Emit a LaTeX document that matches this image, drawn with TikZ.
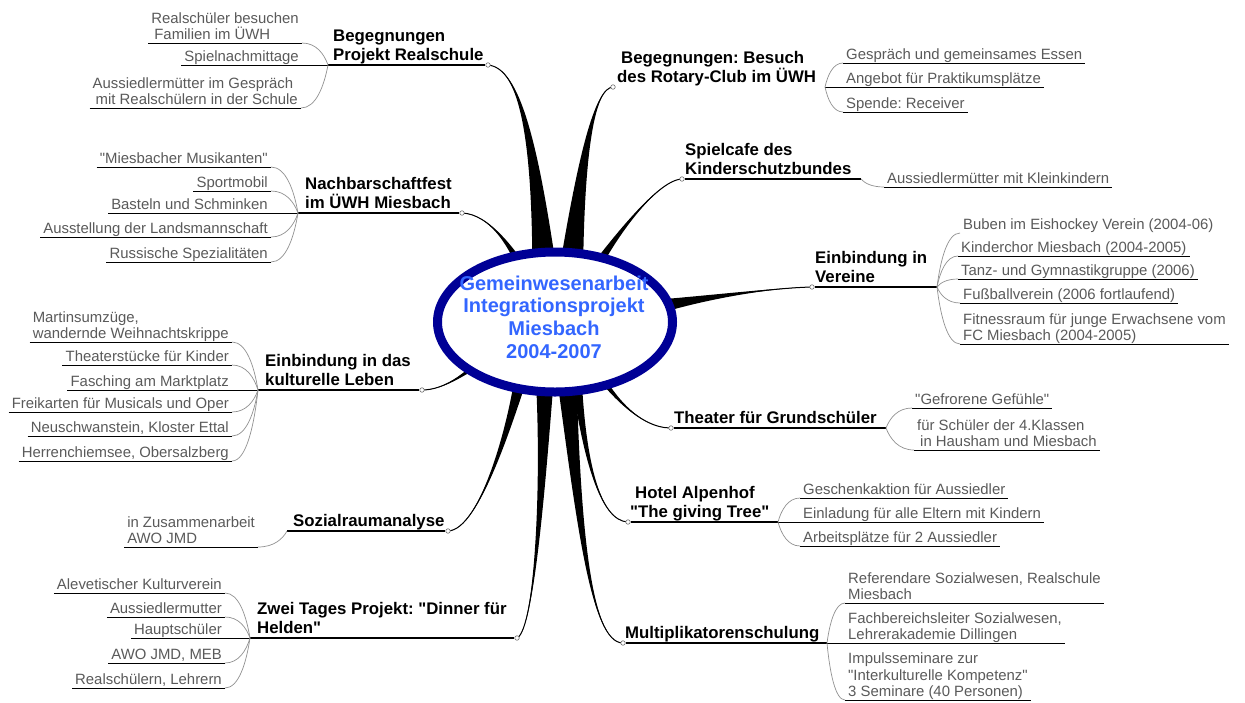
\documentclass[tikz,border=0pt]{standalone}
\usepackage{fontspec}
\setmainfont{Liberation Sans}[Ligatures=TeXOff]
\frenchspacing
\usetikzlibrary{calc,shapes.geometric}
\pgfdeclarelayer{back}
\pgfsetlayers{back,main}
\definecolor{subgray}{RGB}{90,90,90}
\definecolor{hubnavy}{RGB}{0,0,150}
\definecolor{hubblue}{RGB}{51,102,255}
\definecolor{conngray}{RGB}{145,145,145}
\definecolor{knobgray}{RGB}{110,110,110}

% tapered main branch: start, control 1, control 2, end node, half width
\newcommand\branch[5]{%
  \coordinate (bS) at (#1);
  \coordinate (bA) at (#2);
  \coordinate (bB) at (#3);
  \coordinate (bE) at (#4);
  \coordinate (bS1) at ($(bS)!#5!90:(bA)$);
  \coordinate (bS2) at ($(bS)!#5!-90:(bA)$);
  \coordinate (bA1) at ($(bA)+0.15*(bS1)-0.15*(bS)$);
  \coordinate (bA2) at ($(bA)+0.15*(bS2)-0.15*(bS)$);
  \fill (bS1) .. controls (bA1) and (bB) .. (bE) .. controls (bB) and (bA2) .. (bS2) -- cycle;
  \draw[line width=1pt] (bS) .. controls (bA) and (bB) .. (bE);
}
% gray connectors from a junction to a sub topic
\newcommand\lcon[2]{%
  \draw[conn] let \p1=(#1.south east), \p2=(#2) in
    (\p1) .. controls (0.45*\x1+0.55*\x2, \y1) and (0.85*\x2+0.15*\x1, 0.5*\y1+0.5*\y2) .. (\p2);}
\newcommand\rcon[2]{%
  \draw[conn] let \p1=(#1), \p2=(#2.south west) in
    (\p1) .. controls (0.85*\x1+0.15*\x2, 0.5*\y1+0.5*\y2) and (0.45*\x2+0.55*\x1, \y2) .. (\p2);}
% sub topics: name, x, underline y, text, junction
\newcommand\lsub[5]{%
  \node[sublbl, anchor=south east] (#1) at (#2,#3) {#4};
  \draw[uline] (#1.south west) -- (#1.south east);
  \lcon{#1}{#5}}
\newcommand\lsubj[5]{%
  \node[sublbl, anchor=south east] (#1) at (#2,#3) {#4};
  \draw[uline] (#1.south west) -- (#5);}
\newcommand\rsub[5]{%
  \node[sublbl, anchor=south west] (#1) at (#2,#3) {#4};
  \draw[uline] (#1.south west) -- (#1.south east);
  \rcon{#5}{#1}}
\newcommand\rsubj[5]{%
  \node[sublbl, anchor=south west] (#1) at (#2,#3) {#4};
  \draw[uline] (#5) -- (#1.south east);}
\newcommand\rsubn[5]{%
  \node[sublbl, anchor=south west] (#1) at (#2,#3) {#4};
  \rcon{#5}{#1}}

\begin{document}
\begin{tikzpicture}[x=1pt,y=-1pt,
  mainlbl/.style={font=\fontsize{16.8}{19.5}\selectfont\bfseries, align=left,
    inner xsep=2pt, inner ysep=4pt, text depth=0pt},
  sublbl/.style={font=\fontsize{14.9}{16.5}\selectfont, text=subgray, align=left,
    inner xsep=3pt, inner ysep=3pt, text depth=0pt},
  uline/.style={line width=0.8pt, black},
  mline/.style={line width=1.2pt, black},
  conn/.style={draw=conngray, line width=0.7pt},
  knob/.style={circle, draw=knobgray, fill=white, inner sep=0pt, minimum size=4.5pt, line width=0.6pt},
  hub/.style={ellipse, draw=hubnavy, line width=9pt, fill=white, minimum width=235pt, minimum height=140pt, inner sep=0pt},
  hubtext/.style={font=\fontsize{20}{22.7}\selectfont\bfseries, text=hubblue, align=center, inner sep=0pt}
]
\useasboundingbox (0,0) rectangle (1245,702);
\begin{pgfonlayer}{back}
  \fill[white] (0,0) rectangle (1245,702);
\end{pgfonlayer}

% central topic
\node[hub] (hub) at (555,322) {};
\node[hubtext] (hubt) at (554,317) {Gemeinwesenarbeit\\Integrationsprojekt\\Miesbach\\2004-2007};

% ---------- left side ----------
% A
\coordinate (jA) at (328,65);
\node[knob] (kA) at (488,65) {};
\node[mainlbl, anchor=south west] (tA) at (331,65) {Begegnungen\\Projekt Realschule};
\draw[mline] (jA) -- (kA);
\lsub{a1}{302}{43}{Realschüler besuchen\\\hspace*{3pt}Familien im ÜWH}{jA}
\lsubj{a2}{302}{65}{Spielnachmittage}{jA}
\lsub{a3}{301}{108}{Aussiedlermütter im Gespräch\\\hspace*{3pt}mit Realschülern in der Schule}{jA}

% B
\coordinate (jB) at (298,213);
\node[knob] (kB) at (462,213) {};
\node[mainlbl, anchor=south west] (tB) at (303,213) {Nachbarschaftfest\\im ÜWH Miesbach};
\draw[mline] (jB) -- (kB);
\lsub{b1}{271}{167}{"Miesbacher Musikanten"}{jB}
\lsub{b2}{271}{191}{Sportmobil}{jB}
\lsubj{b3}{271}{213}{Basteln und Schminken}{jB}
\lsub{b4}{271}{237}{Ausstellung der Landsmannschaft}{jB}
\lsub{b5}{271}{262}{Russische Spezialitäten}{jB}

% C
\coordinate (jC) at (258,390);
\node[knob] (kC) at (422,390) {};
\node[mainlbl, anchor=south west] (tC) at (263,390) {Einbindung in das\\kulturelle Leben};
\draw[mline] (jC) -- (kC);
\lsub{c1}{232}{342}{Martinsumzüge,\\wandernde Weihnachtskrippe}{jC}
\lsub{c2}{232}{365}{Theaterstücke für Kinder}{jC}
\lsubj{c3}{232}{390}{Fasching am Marktplatz}{jC}
\lsub{c4}{232}{412}{Freikarten für Musicals und Oper}{jC}
\lsub{c5}{232}{436}{Neuschwanstein, Kloster Ettal}{jC}
\lsub{c6}{232}{461}{Herrenchiemsee, Obersalzberg}{jC}

% D
\coordinate (jD) at (287,531);
\node[knob] (kD) at (448,531) {};
\node[mainlbl, anchor=south west] (tD) at (291,531) {Sozialraumanalyse};
\draw[mline] (jD) -- (kD);
\lsub{d1}{258}{547}{in Zusammenarbeit\\AWO JMD}{jD}

% E
\coordinate (jE) at (250,638);
\node[knob] (kE) at (517,638) {};
\node[mainlbl, anchor=south west] (tE) at (255,638) {Zwei Tages Projekt: "Dinner für\\Helden"};
\draw[mline] (jE) -- (kE);
\lsub{e1}{225}{593}{Alevetischer Kulturverein}{jE}
\lsub{e2}{225}{617}{Aussiedlermutter}{jE}
\lsubj{e3}{225}{638}{Hauptschüler}{jE}
\lsub{e4}{225}{663}{AWO JMD, MEB}{jE}
\lsub{e5}{225}{688}{Realschülern, Lehrern}{jE}

% ---------- right side ----------
% F
\coordinate (jF) at (825,87);
\node[knob] (kF) at (613,87) {};
\node[mainlbl, anchor=south west] (tF) at (615,87) {\hspace*{4pt}Begegnungen: Besuch\\des Rotary-Club im ÜWH};
\rsub{f1}{843}{63}{Gespräch und gemeinsames Essen}{jF}
\rsubj{f2}{843}{87}{Angebot für Praktikumsplätze}{jF}
\rsub{f3}{843}{112}{Spende: Receiver}{jF}

% G
\coordinate (jG) at (861,179);
\node[knob] (kG) at (682,179) {};
\node[mainlbl, anchor=south west] (tG) at (683,179) {Spielcafe des\\Kinderschutzbundes};
\draw[mline] (kG) -- (jG);
\rsub{g1}{884}{187}{Aussiedlermütter mit Kleinkindern}{jG}

% H
\coordinate (jH) at (937,287);
\node[knob] (kH) at (812,287) {};
\node[mainlbl, anchor=south west] (tH) at (813,287) {Einbindung in\\Vereine};
\draw[mline] (kH) -- (jH);
\rsubn{h1}{960}{233}{Buben im Eishockey Verein (2004-06)}{jH}
\rsub{h2}{958}{256}{Kinderchor Miesbach (2004-2005)}{jH}
\rsub{h3}{958}{279}{Tanz- und Gymnastikgruppe (2006)}{jH}
\rsub{h4}{960}{303}{Fußballverein (2006 fortlaufend)}{jH}
\rsub{h5}{960}{344}{Fitnessraum für junge Erwachsene vom\\FC Miesbach (2004-2005)}{jH}

% I
\coordinate (jI) at (886,428);
\node[knob] (kI) at (671,428) {};
\node[mainlbl, anchor=south west] (tI) at (672,428) {Theater für Grundschüler};
\draw[mline] (kI) -- (jI);
\rsub{i1}{912}{408}{"Gefrorene Gefühle"}{jI}
\rsub{i2}{914}{450}{für Schüler der 4.Klassen\\\hspace*{3pt}in Hausham und Miesbach}{jI}

% J
\coordinate (jJ) at (778,522);
\node[knob] (kJ) at (628,522) {};
\node[mainlbl, anchor=south west] (tJ) at (628,522) {\hspace*{5pt}Hotel Alpenhof\\"The giving Tree"};
\draw[mline] (kJ) -- (jJ);
\rsub{j1}{800}{498}{Geschenkaktion für Aussiedler}{jJ}
\rsubj{j2}{800}{522}{Einladung für alle Eltern mit Kindern}{jJ}
\rsub{j3}{800}{546}{Arbeitsplätze für 2 Aussiedler}{jJ}

% K
\coordinate (jK) at (827,643);
\node[knob] (kK) at (623,643) {};
\node[mainlbl, anchor=south west] (tK) at (623,643) {Multiplikatorenschulung};
\draw[mline] (kK) -- (jK);
\rsub{k1}{845}{603}{Referendare Sozialwesen, Realschule\\Miesbach}{jK}
\rsubj{k2}{845}{643}{Fachbereichsleiter Sozialwesen,\\Lehrerakademie Dillingen}{jK}
\rsub{k3}{845}{700}{Impulsseminare zur\\"Interkulturelle Kompetenz"\\3 Seminare (40 Personen)}{jK}

% ---------- tapered main branches (behind the hub) ----------
\begin{pgfonlayer}{back}
  \branch{547,310}{537,140}{520,68}{kA}{15pt}
  \branch{568,310}{580,150}{595,88}{kF}{15pt}
  \branch{530,285}{515,250}{490,214}{kB}{7pt}
  \branch{500,345}{470,372}{445,390}{kC}{6pt}
  \branch{525,360}{512,420}{480,530}{kD}{8pt}
  \branch{545,350}{545,470}{535,630}{kE}{11pt}
  \branch{585,285}{605,250}{655,180}{kG}{7pt}
  \branch{640,310}{700,298}{770,288}{kH}{9pt}
  \branch{590,360}{610,395}{640,428}{kI}{5pt}
  \branch{575,360}{583,460}{600,521}{kJ}{6pt}
  \branch{565,355}{578,520}{590,643}{kK}{11pt}
\end{pgfonlayer}
\end{tikzpicture}
\end{document}
